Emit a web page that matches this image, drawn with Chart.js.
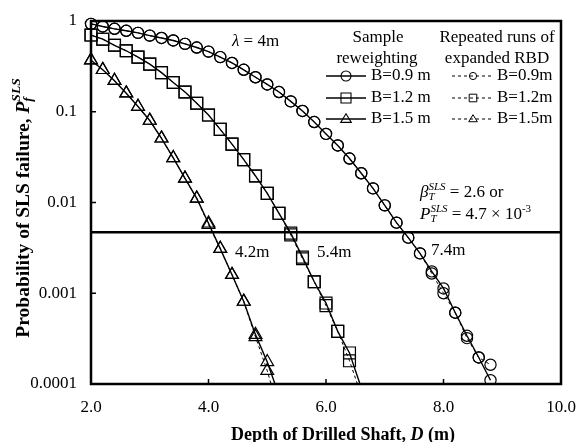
<!DOCTYPE html>
<html><head><meta charset="utf-8">
<script src="https://cdn.jsdelivr.net/npm/chart.js@4.4.1/dist/chart.umd.min.js"></script>
<style>html,body{margin:0;padding:0;background:#fff}canvas{display:block}</style>
</head><body>
<canvas id="c" width="578" height="442"></canvas>
<script>
// ---- data ----
const depth09 = [2.0,2.2,2.4,2.6,2.8,3.0,3.2,3.4,3.6,3.8,4.0,4.2,4.4,4.6,4.8,5.0,5.2,5.4,5.6,5.8,6.0,6.2,6.4,6.6,6.8,7.0,7.2,7.4,7.6,7.8,8.0,8.2,8.4,8.6,8.8];
const sampleRew09 = [0.93,0.87,0.82,0.78,0.74,0.69,0.65,0.61,0.56,0.51,0.46,0.40,0.345,0.29,0.24,0.20,0.165,0.13,0.102,0.077,0.057,0.0425,0.0305,0.021,0.0143,0.0093,0.0060,0.0041,0.00275,0.00174,0.00113,0.00061,0.00034,0.000196,0.000110];
const repeated09  = [0.93,0.87,0.82,0.78,0.74,0.69,0.65,0.61,0.56,0.51,0.46,0.40,0.345,0.29,0.24,0.20,0.165,0.13,0.102,0.077,0.057,0.0425,0.0305,0.021,0.0143,0.0093,0.0060,0.0041,0.00275,0.00165,0.00100,0.00061,0.00032,0.000196,0.000163];

const depth12 = [2.0,2.2,2.4,2.6,2.8,3.0,3.2,3.4,3.6,3.8,4.0,4.2,4.4,4.6,4.8,5.0,5.2,5.4,5.6,5.8,6.0,6.2,6.4,6.6];
const sampleRew12 = [0.70,0.63,0.54,0.47,0.40,0.335,0.27,0.21,0.165,0.124,0.092,0.064,0.044,0.0297,0.0196,0.0126,0.0076,0.0046,0.0025,0.00134,0.00078,0.00038,0.00022,0.000091];
const repeated12  = [0.70,0.63,0.54,0.47,0.40,0.335,0.27,0.21,0.165,0.124,0.092,0.064,0.044,0.0297,0.0196,0.0126,0.0076,0.0044,0.0024,0.00134,0.00073,0.00038,0.00018,0.000075];

const depth15 = [2.0,2.2,2.4,2.6,2.8,3.0,3.2,3.4,3.6,3.8,4.0,4.2,4.4,4.6,4.8,5.0,5.2];
const sampleRew15 = [0.37,0.29,0.22,0.16,0.114,0.080,0.051,0.031,0.0184,0.0111,0.0059,0.0031,0.0016,0.00081,0.00035,0.000175,0.000075];
const repeated15  = [0.37,0.29,0.22,0.16,0.114,0.080,0.051,0.031,0.0184,0.0111,0.0057,0.0031,0.0016,0.00081,0.00033,0.000140,0.000050];

const targetDepthRange = [2.0, 10.0];
const targetPf = 0.0047;

const xTickValues = [2,4,6,8,10];
const xTickLabels = ['2.0','4.0','6.0','8.0','10.0'];
const yTickValues = [1,0.1,0.01,0.001,0.0001];
const yTickLabels = ['1','0.1','0.01','0.001','0.0001'];

const legendLabelsSR = ['B=0.9 m','B=1.2 m','B=1.5 m'];
const legendLabelsRR = ['B=0.9m','B=1.2m','B=1.5m'];

// ---- helpers ----
const SERIF = '"Liberation Serif","Times New Roman",serif';
const toXY = (xs, ys) => xs.map((x,i)=>({x:x, y:ys[i]}));
const rad = {circle:5.6, rect:8.4, triangle:7.4};
function radFn(r){ return ctx => (ctx.raw && ctx.raw.y < 1e-4) ? 0 : r; }
function series(xs, ys, style, dashed){
  return {
    data: toXY(xs, ys),
    borderColor:'#000', borderWidth: dashed ? 1 : 1.4,
    borderDash: dashed ? [3,3] : [],
    pointStyle: style, pointRadius: radFn(rad[style]),
    pointBorderWidth: 1.2, pointBackgroundColor:'rgba(0,0,0,0)', pointBorderColor:'#000',
    pointHoverRadius: radFn(rad[style]),
    tension:0, fill:false,
    clip:{left:12, top:12, right:12, bottom:0}
  };
}

function layoutRuns(ctx, runs){
  let x=0, ps=0, pe=0; const out=[];
  for(const r of runs){
    ctx.font=r.f; const w=ctx.measureText(r.t).width;
    let s,e;
    if(r.stack){ s=ps; e=Math.max(pe, s+w);} else { s=x; e=x+w; }
    out.push(Object.assign({}, r, {x:s})); ps=s; pe=e; x=e;
  }
  return {items:out, width:x};
}
function drawRuns(ctx, x0, y0, runs, align){
  const L = layoutRuns(ctx, runs);
  let start = x0;
  if(align==='center') start = x0 - L.width/2;
  ctx.textAlign='left'; ctx.textBaseline='middle'; ctx.fillStyle='#000';
  for(const it of L.items){ ctx.font=it.f; ctx.fillText(it.t, start+it.x, y0+(it.dy||0)); }
}

function marker(ctx, style, x, y, r){
  ctx.beginPath();
  if(style==='circle'){ ctx.arc(x,y,r,0,Math.PI*2); }
  else if(style==='rect'){ ctx.rect(x-r,y-r,2*r,2*r); }
  else { const h=r*1.0; ctx.moveTo(x, y-h); ctx.lineTo(x+r*0.87*1.15, y+h*0.55*1.15); ctx.lineTo(x-r*0.87*1.15, y+h*0.55*1.15); ctx.closePath(); }
  ctx.stroke();
}

const decor = {
  id:'decor',
  afterDraw(chart){
    const ctx=chart.ctx, a=chart.chartArea, xs=chart.scales.x, ys=chart.scales.y;
    ctx.save();
    ctx.strokeStyle='#000';
    // inward tick marks
    ctx.lineWidth=1.5;
    ys.ticks.forEach(t=>{ const py=ys.getPixelForValue(t.value); ctx.beginPath(); ctx.moveTo(a.left,py); ctx.lineTo(a.left+5,py); ctx.stroke(); });
    xs.ticks.forEach(t=>{ const px=xs.getPixelForValue(t.value); ctx.beginPath(); ctx.moveTo(px,a.bottom); ctx.lineTo(px,a.bottom-5); ctx.stroke(); });
    // frame
    ctx.lineWidth=2.5;
    ctx.strokeRect(a.left, a.top, a.right-a.left, a.bottom-a.top);

    // axis titles
    const b18='bold 18px '+SERIF, bi18='italic bold 18px '+SERIF;
    drawRuns(ctx, 343, 435, [
      {t:'Depth of Drilled Shaft, ', f:b18},
      {t:'D', f:bi18},
      {t:' (m)', f:b18}
    ], 'center');
    const b20='bold 19.5px '+SERIF, bi20='italic bold 19.5px '+SERIF, bi13='italic bold 13.5px '+SERIF;
    ctx.save();
    ctx.translate(24, 208); ctx.rotate(-Math.PI/2);
    drawRuns(ctx, 0, 0, [
      {t:'Probability of SLS failure, ', f:b20},
      {t:'P', f:bi20},
      {t:'f', f:bi13, dy:5},
      {t:'SLS', f:bi13, dy:-7, stack:true}
    ], 'center');
    ctx.restore();

    // annotations
    const n17='17px '+SERIF, i17='italic 17px '+SERIF, i11='italic 11px '+SERIF, n11='11px '+SERIF;
    drawRuns(ctx, 232, 42, [{t:'\u03bb', f:i17},{t:' = 4m', f:n17}], 'left');
    drawRuns(ctx, 235, 253, [{t:'4.2m', f:n17}], 'left');
    drawRuns(ctx, 317, 253, [{t:'5.4m', f:n17}], 'left');
    drawRuns(ctx, 431, 251, [{t:'7.4m', f:n17}], 'left');
    drawRuns(ctx, 420, 193, [
      {t:'\u03b2', f:i17},{t:'T', f:i11, dy:4},{t:'SLS', f:i11, dy:-6, stack:true},{t:' = 2.6 or', f:n17}
    ], 'left');
    drawRuns(ctx, 420, 215, [
      {t:'P', f:i17},{t:'T', f:i11, dy:4},{t:'SLS', f:i11, dy:-6, stack:true},{t:' = 4.7 \u00d7 10', f:n17},{t:'-3', f:n11, dy:-6}
    ], 'left');

    // legend
    drawRuns(ctx, 378, 38, [{t:'Sample', f:n17}], 'center');
    drawRuns(ctx, 377, 59, [{t:'reweighting', f:n17}], 'center');
    drawRuns(ctx, 497, 38, [{t:'Repeated runs of', f:n17}], 'center');
    drawRuns(ctx, 497, 59, [{t:'expanded RBD', f:n17}], 'center');
    const rows=[76,98,119], styles=['circle','rect','triangle'];
    const rS=[5,5,5.3], rD=[3.6,3.8,4.3];
    rows.forEach((ry,i)=>{
      ctx.setLineDash([]); ctx.lineWidth=1.4;
      ctx.beginPath(); ctx.moveTo(326,ry); ctx.lineTo(366,ry); ctx.stroke();
      ctx.lineWidth=1.1; marker(ctx, styles[i], 346, ry, rS[i]);
      drawRuns(ctx, 371, ry, [{t:legendLabelsSR[i], f:n17}], 'left');
      ctx.setLineDash([3,3]); ctx.lineWidth=1;
      ctx.beginPath(); ctx.moveTo(452,ry); ctx.lineTo(494,ry); ctx.stroke();
      ctx.setLineDash([]); ctx.lineWidth=1; marker(ctx, styles[i], 473, ry, rD[i]);
      drawRuns(ctx, 497, ry, [{t:legendLabelsRR[i], f:n17}], 'left');
    });
    ctx.restore();
  }
};

new Chart(document.getElementById('c'), {
  type:'line',
  data:{ datasets:[
    {data: targetDepthRange.map(x=>({x:x,y:targetPf})), borderColor:'#000', borderWidth:2.5, pointRadius:0, pointHoverRadius:0, fill:false},
    series(depth09, repeated09, 'circle', true),
    series(depth12, repeated12, 'rect', true),
    series(depth15, repeated15, 'triangle', true),
    series(depth09, sampleRew09, 'circle', false),
    series(depth12, sampleRew12, 'rect', false),
    series(depth15, sampleRew15, 'triangle', false)
  ]},
  options:{
    responsive:false, devicePixelRatio:1, animation:false,
    events:[],
    layout:{padding:{left:0, top:21, right:17, bottom:0}},
    plugins:{legend:{display:false}, tooltip:{enabled:false}},
    scales:{
      x:{ type:'linear', min:2, max:10,
          grid:{display:false, drawTicks:false}, border:{display:false},
          afterBuildTicks: s => { s.ticks = xTickValues.map(v=>({value:v})); },
          ticks:{ callback:(v)=> xTickLabels[xTickValues.indexOf(v)] ?? '', color:'#000', font:{family:SERIF, size:17}, padding:13, maxRotation:0, autoSkip:false },
          afterFit: s => { s.height = 58; s.paddingLeft = 0; s.paddingRight = 0; }
      },
      y:{ type:'logarithmic', min:0.0001, max:1,
          grid:{display:false, drawTicks:false}, border:{display:false},
          afterBuildTicks: s => { s.ticks = yTickValues.map(v=>({value:v})); },
          ticks:{ callback:(v)=> { const i = yTickValues.findIndex(t=>Math.abs(Math.log10(t)-Math.log10(v))<1e-6); return i>=0 ? yTickLabels[i] : ''; }, color:'#000', font:{family:SERIF, size:17}, padding:14, autoSkip:false },
          afterFit: s => { s.width = 91; s.paddingTop = 0; s.paddingBottom = 0; }
      }
    }
  },
  plugins:[decor]
});
</script>
</body></html>
